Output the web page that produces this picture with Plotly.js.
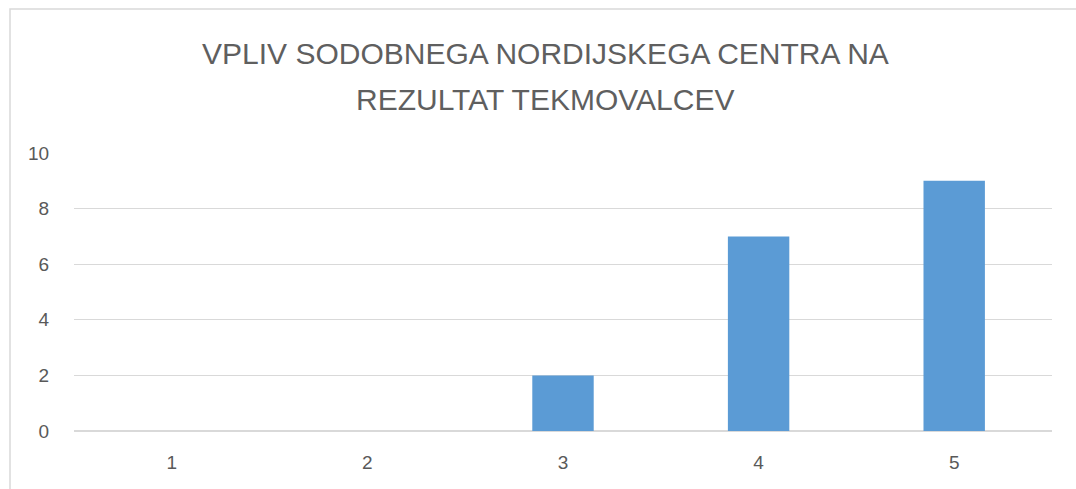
<!DOCTYPE html>
<html><head><meta charset="utf-8">
<script src="https://cdn.plot.ly/plotly-3.0.1.min.js"></script>
<style>html,body{margin:0;padding:0;background:#fff;}</style>
</head><body>
<div id="chart" style="width:1076px;height:489px;"></div>
<script>
var categories = ['1', '2', '3', '4', '5'];
var values = [0, 0, 2, 7, 9];
var yTicks = [0, 2, 4, 6, 8, 10];
var titleLines = ['VPLIV SODOBNEGA NORDIJSKEGA CENTRA NA', 'REZULTAT TEKMOVALCEV'];

var data = [{
  type: 'bar',
  x: categories,
  y: values,
  marker: {color: '#5b9bd5', line: {width: 0}},
  hoverinfo: 'x+y'
}];

var titleFont = {family: 'Liberation Sans, Arial, sans-serif', size: 30, color: '#5f5f5f'};
var tickFont = {family: 'Liberation Sans, Arial, sans-serif', size: 19, color: '#595959'};

var layout = {
  width: 1076, height: 489,
  margin: {l: 74, r: 24, t: 153, b: 58, pad: 0},
  paper_bgcolor: '#ffffff', plot_bgcolor: '#ffffff',
  showlegend: false,
  bargap: 0.686,
  xaxis: {
    type: 'category',
    tickfont: tickFont,
    ticks: 'outside', ticklen: 14, tickcolor: 'rgba(0,0,0,0)',
    showline: false, showgrid: false, zeroline: false
  },
  yaxis: {
    range: [0, 10],
    tickvals: yTicks,
    tickfont: tickFont,
    ticks: 'outside', ticklen: 20, tickcolor: 'rgba(0,0,0,0)',
    showgrid: true, gridcolor: '#d9d9d9', gridwidth: 1.3,
    zeroline: true, zerolinecolor: '#d9d9d9', zerolinewidth: 1.3,
    showline: false, fixedrange: true
  },
  annotations: [
    {text: titleLines[0], xref: 'paper', yref: 'paper', x: (545 - 74) / 978, y: (431 - 53) / 278,
     xanchor: 'center', yanchor: 'middle', showarrow: false, font: titleFont},
    {text: titleLines[1], xref: 'paper', yref: 'paper', x: (545 - 74) / 978, y: (431 - 99) / 278,
     xanchor: 'center', yanchor: 'middle', showarrow: false, font: titleFont}
  ],
  shapes: [{
    type: 'rect', xref: 'paper', yref: 'paper',
    x0: (10 - 74) / 978, x1: (1090 - 74) / 978,
    y0: (431 - 500) / 278, y1: (431 - 9) / 278,
    line: {color: '#d9d9d9', width: 1.5}, fillcolor: 'rgba(0,0,0,0)', layer: 'below'
  }]
};

Plotly.newPlot('chart', data, layout, {displayModeBar: false, staticPlot: true});
</script>
</body></html>
